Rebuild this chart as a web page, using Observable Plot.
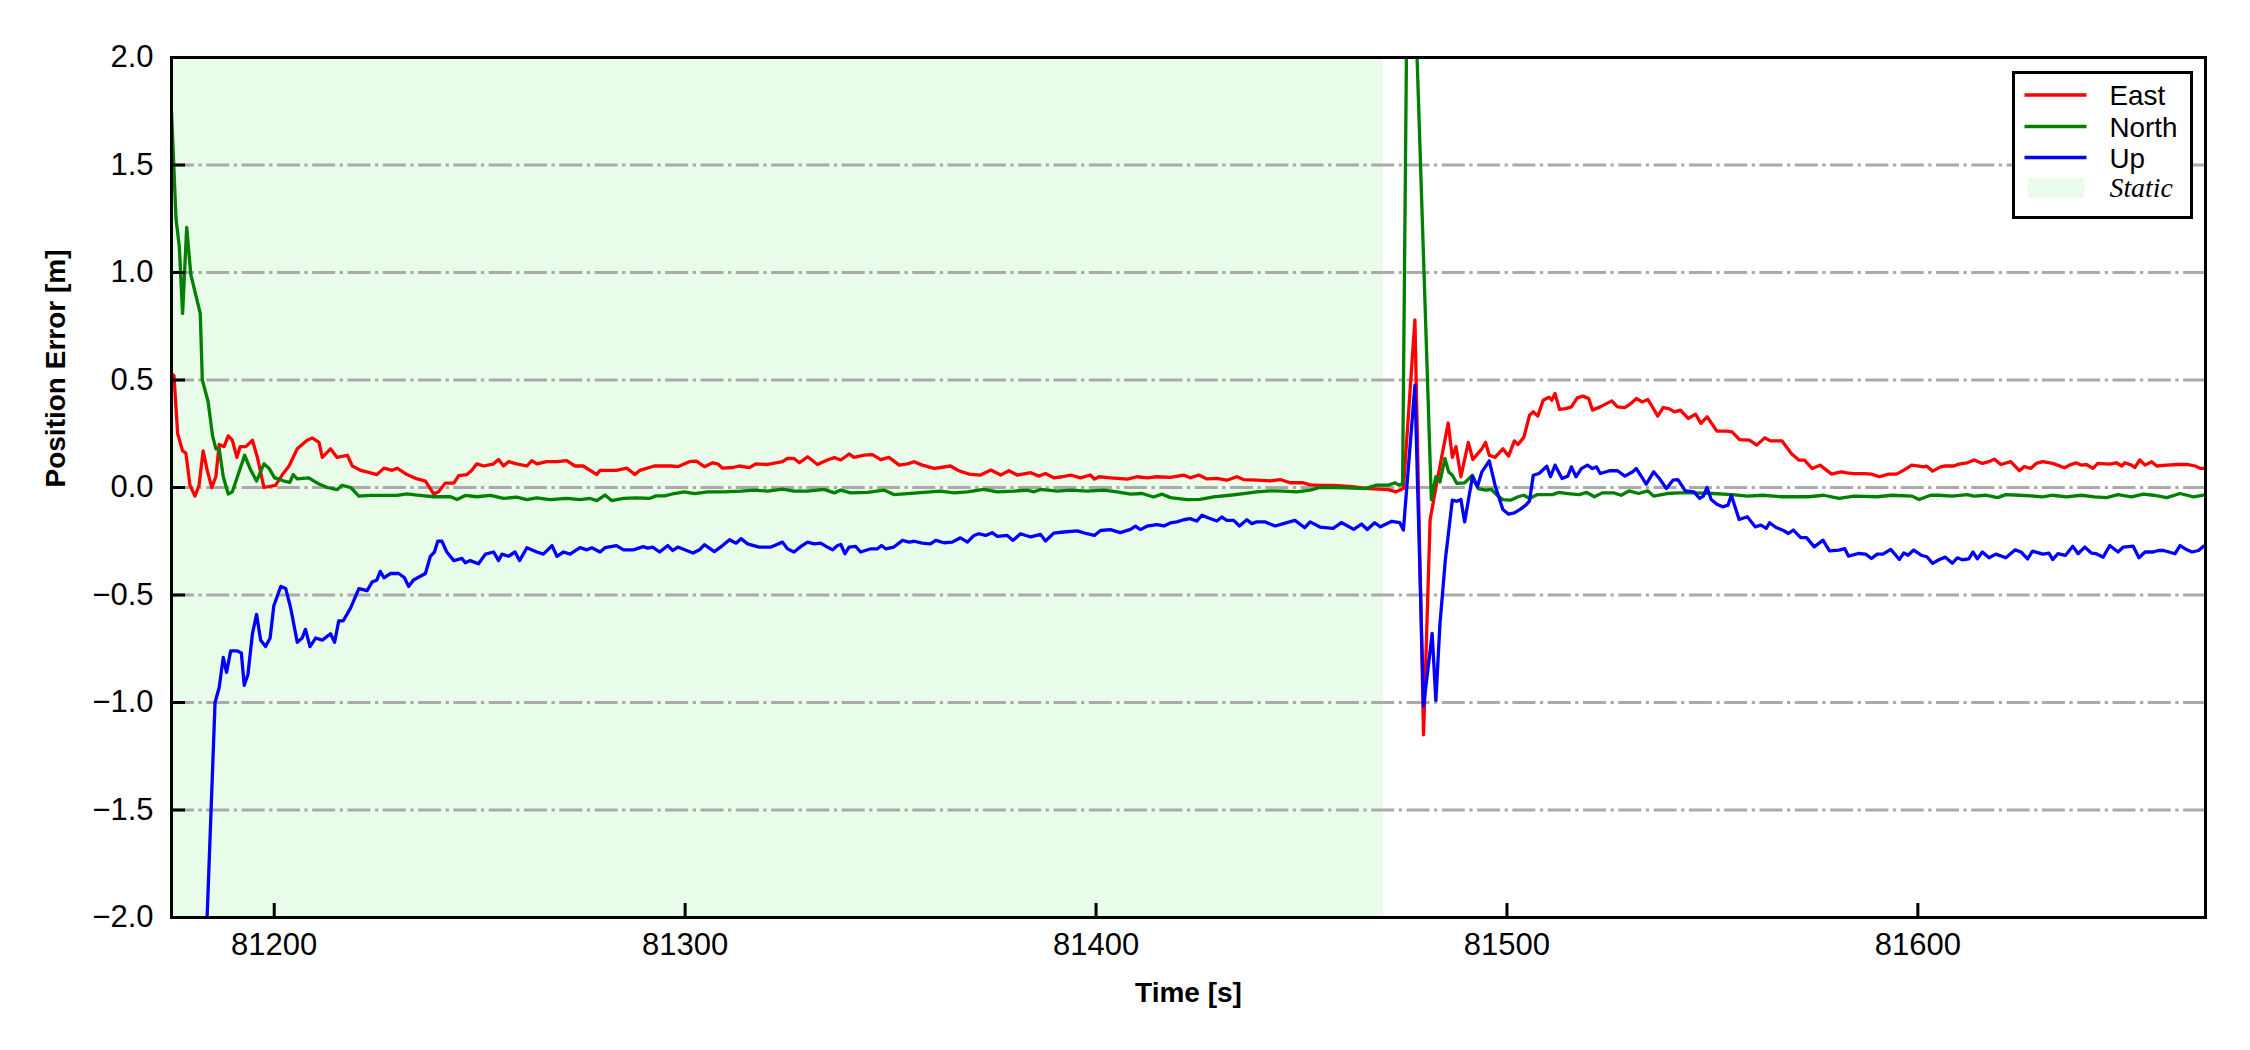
<!DOCTYPE html>
<html>
<head>
<meta charset="utf-8">
<script src="https://cdn.jsdelivr.net/npm/d3@7"></script>
<script src="https://cdn.jsdelivr.net/npm/@observablehq/plot@0.6"></script>
<style>
  html, body { margin: 0; padding: 0; background: white; }
  #wrap { position: relative; width: 2250px; height: 1050px; }
  #legend { position: absolute; left: 2011.5px; top: 70.5px; width: 175px; height: 142px;
            border: 3px solid black; background: white; }
</style>
</head>
<body>
<div id="wrap"></div>
<script>
// ---------------- data (time [s], error [m]) ----------------
const east = [
[81175.0,0.53],[81175.6,0.52],[81176.5,0.25],[81177.7,0.17],[81178.5,0.16],[81179.5,0.01],[81180.7,-0.04],[81181.7,0.01],[81182.7,0.17],[81183.7,0.08],[81184.8,0.0],[81185.8,0.05],[81186.6,0.20],[81187.8,0.19],[81188.8,0.24],[81189.8,0.22],[81190.9,0.14],[81191.7,0.19],[81193.1,0.19],[81194.7,0.22],[81195.9,0.14],[81197.5,0.0],[81200.3,0.01],[81202.0,0.06],[81203.6,0.10],[81205.6,0.18],[81208.0,0.22],[81209.3,0.23],[81210.9,0.21],[81211.7,0.14],[81213.7,0.18],[81215.3,0.14],[81217.8,0.15],[81219.0,0.10],[81221.0,0.08],[81223.0,0.07],[81225.0,0.06],[81226.7,0.09],[81228.7,0.08],[81229.9,0.09],[81232.3,0.06],[81234.8,0.04],[81236.8,0.03],[81238.8,-0.03],[81240.0,-0.02],[81241.6,0.02],[81243.7,0.02],[81244.9,0.055],[81246.9,0.06],[81248.1,0.08],[81249.3,0.11],[81251.0,0.10],[81253.4,0.11],[81254.6,0.13],[81255.8,0.10],[81257.0,0.12],[81259.0,0.11],[81261.5,0.10],[81262.7,0.125],[81263.9,0.11],[81266.3,0.12],[81268.8,0.12],[81271.2,0.125],[81273.2,0.10],[81275.2,0.10],[81278.5,0.06],[81279.3,0.08],[81283.3,0.08],[81285.8,0.09],[81287.8,0.06],[81289.0,0.08],
[81292.5,0.10],[81296.6,0.10],[81298.2,0.097],[81301.0,0.12],[81302.7,0.123],[81304.7,0.097],[81306.7,0.115],[81307.9,0.11],[81309.1,0.09],[81311.6,0.093],[81313.2,0.10],[81315.6,0.092],[81317.2,0.11],[81320.1,0.107],[81323.7,0.12],[81324.9,0.135],[81326.5,0.135],[81327.8,0.115],[81329.8,0.143],[81332.2,0.107],[81334.6,0.128],[81336.3,0.139],[81337.9,0.128],[81339.9,0.156],[81341.1,0.14],[81343.6,0.151],[81345.6,0.153],[81347.6,0.13],[81349.6,0.14],[81352.1,0.104],[81354.1,0.11],[81355.7,0.12],[81357.7,0.104],[81360.6,0.089],[81362.2,0.093],[81364.6,0.10],[81366.6,0.078],[81369.1,0.062],
[81371.9,0.058],[81374.4,0.081],[81376.8,0.058],[81378.8,0.078],[81380.8,0.058],[81384.1,0.069],[81386.1,0.053],[81387.7,0.065],[81389.7,0.045],[81391.8,0.05],[81393.8,0.058],[81396.2,0.045],[81398.6,0.058],[81399.6,0.039],[81400.7,0.05],[81403.5,0.045],[81407.6,0.039],[81410.0,0.05],[81412.4,0.045],[81414.8,0.05],[81418.1,0.047],[81421.3,0.058],[81422.9,0.045],[81425.0,0.058],[81427.0,0.04],[81429.4,0.042],[81431.8,0.034],[81434.3,0.05],[81435.9,0.037],[81439.1,0.034],[81442.4,0.031],[81444.8,0.037],[81447.2,0.022],[81450.4,0.022],[81452.1,0.012],[81454.5,0.01],[81457.7,0.01],[81461.7,0.005],
[81466.4,-0.005],[81471.1,-0.01],[81473.0,-0.02],[81474.8,-0.005],[81477.6,0.78],[81479.7,-1.15],[81481.3,-0.15],[81482.7,0.0],[81484.1,0.14],[81485.7,0.30],[81486.7,0.14],[81487.6,0.19],[81488.8,0.05],[81490.6,0.21],[81491.7,0.13],[81493.0,0.16],[81493.9,0.18],[81494.8,0.21],[81495.7,0.15],[81497.1,0.14],[81499.0,0.18],[81500.4,0.146],[81501.8,0.217],[81502.7,0.2],[81504.1,0.233],[81505.5,0.336],[81506.4,0.352],[81507.5,0.332],[81508.8,0.406],[81510.2,0.42],[81510.9,0.406],[81511.7,0.437],[81512.8,0.363],[81514.3,0.367],[81515.7,0.375],[81517.1,0.417],[81518.5,0.425],[81519.9,0.414],[81520.8,0.36],[81522.7,0.375],[81525.5,0.403],[81526.9,0.375],[81528.7,0.372],[81530.1,0.39],[81531.5,0.414],[81532.9,0.398],[81534.3,0.409],[81535.3,0.378],[81536.7,0.332],[81538.0,0.372],[81539.4,0.367],[81540.8,0.352],[81542.2,0.36],[81544.1,0.321],[81545.9,0.341],[81547.2,0.298],[81548.7,0.329],[81551.1,0.262],[81553.4,0.262],[81554.8,0.259],[81556.6,0.223],[81559.0,0.22],[81560.8,0.197],[81562.7,0.231],[81564.1,0.217],[81566.9,0.217],[81569.2,0.158],[81571.1,0.127],[81572.4,0.127],[81574.3,0.088],[81576.2,0.104],[81579.0,0.062],[81581.3,0.073],[81582.7,0.068],[81584.5,0.065],[81586.9,0.065],[81588.7,0.062],[81590.6,0.05],[81592.9,0.062],[81594.8,0.062],[81596.6,0.081],[81598.5,0.104],[81600.3,0.099],[81601.3,0.096],[81602.2,0.099],[81603.6,0.076],[81605.5,0.096],
[81606.7,0.10],[81608.8,0.10],[81610.0,0.109],[81612.0,0.115],[81613.7,0.128],[81615.7,0.112],[81617.3,0.12],[81618.6,0.132],[81620.2,0.107],[81622.6,0.12],[81624.7,0.078],[81625.9,0.097],[81627.5,0.089],[81628.8,0.112],[81630.4,0.12],[81632.8,0.112],[81635.7,0.092],[81636.9,0.104],[81638.5,0.115],[81639.8,0.104],[81641.0,0.107],[81642.6,0.089],[81643.8,0.112],[81646.7,0.109],[81648.3,0.115],[81649.6,0.10],[81650.4,0.115],[81652.0,0.104],[81652.8,0.093],[81654.0,0.128],[81655.3,0.104],[81656.9,0.12],[81658.1,0.10],[81660.6,0.104],[81663.0,0.107],[81665.5,0.107],[81667.5,0.10],[81668.7,0.089],[81669.5,0.089]
];

const north = [
[81175.0,1.75],[81176.1,1.25],[81176.9,1.12],[81177.7,0.81],[81178.7,1.21],[81179.7,0.99],[81182.0,0.81],[81182.5,0.50],[81183.9,0.40],[81185.0,0.24],[81185.8,0.18],[81186.6,0.18],[81187.6,0.05],[81188.8,-0.03],[81189.8,-0.02],[81192.8,0.15],[81194.3,0.08],[81195.7,0.03],[81197.5,0.11],[81198.7,0.09],[81200.1,0.045],[81202.4,0.03],[81203.8,0.024],[81204.6,0.06],[81205.6,0.04],[81208.4,0.045],[81210.5,0.02],[81212.9,0.0],[81215.3,-0.01],[81216.5,0.01],[81218.6,0.0],[81220.6,-0.04],[81223.4,-0.037],[81226.7,-0.037],[81229.9,-0.037],[81232.3,-0.03],[81234.8,-0.035],[81238.8,-0.043],[81242.9,-0.043],[81244.5,-0.056],[81246.5,-0.037],[81249.3,-0.043],[81252.6,-0.037],[81255.8,-0.051],[81259.0,-0.045],[81261.5,-0.056],[81263.9,-0.048],[81267.1,-0.056],[81271.2,-0.051],[81274.4,-0.056],[81276.9,-0.051],[81278.5,-0.061],[81280.5,-0.035],[81282.1,-0.061],[81285.0,-0.051],[81288.2,-0.048],
[81291.3,-0.051],[81292.9,-0.039],[81295.0,-0.039],[81297.4,-0.028],[81299.8,-0.02],[81302.3,-0.028],[81305.5,-0.02],[81309.5,-0.02],[81313.6,-0.017],[81316.8,-0.012],[81320.1,-0.017],[81323.7,-0.008],[81326.5,-0.017],[81329.8,-0.017],[81333.8,-0.009],[81336.3,-0.025],[81337.9,-0.012],[81340.3,-0.025],[81344.4,-0.023],[81348.4,-0.012],[81350.8,-0.033],[81354.1,-0.028],[81358.1,-0.023],[81362.2,-0.017],[81365.4,-0.025],[81368.7,-0.02],
[81372.7,-0.009],[81376.0,-0.02],[81380.0,-0.017],[81383.2,-0.012],[81384.9,-0.02],[81386.5,-0.009],[81390.6,-0.017],[81393.8,-0.012],[81397.8,-0.017],[81401.9,-0.012],[81405.1,-0.02],[81408.4,-0.031],[81411.2,-0.028],[81414.0,-0.044],[81416.1,-0.031],[81418.1,-0.047],[81422.1,-0.056],[81425.3,-0.055],[81428.6,-0.044],[81432.6,-0.036],[81435.9,-0.028],[81439.1,-0.02],[81442.4,-0.016],[81445.6,-0.017],[81448.8,-0.02],[81452.1,-0.012],[81454.5,0.0],[81459.3,0.0],
[81465.5,-0.005],[81468.3,0.011],[81471.1,0.011],[81472.8,0.022],[81473.7,0.011],[81474.6,0.019],[81476.1,3.2],[81481.6,-0.056],[81482.7,0.05],[81483.7,0.026],[81484.9,0.135],[81485.8,0.073],[81486.7,0.057],[81487.8,0.019],[81489.7,0.022],[81491.6,0.057],[81493.0,-0.005],[81494.8,-0.012],[81496.2,-0.009],[81497.6,-0.036],[81499.0,-0.056],[81500.9,-0.059],[81502.7,-0.043],[81504.1,-0.036],[81505.5,-0.051],[81507.4,-0.033],[81511.1,-0.033],[81512.5,-0.023],[81514.8,-0.028],[81517.6,-0.033],[81519.4,-0.023],[81521.3,-0.043],[81523.2,-0.025],[81526.0,-0.025],[81527.8,-0.036],[81529.7,-0.016],[81532.0,-0.028],[81534.3,-0.016],[81535.7,-0.04],[81539.0,-0.028],[81541.8,-0.025],[81545.5,-0.025],[81550.1,-0.028],[81554.8,-0.033],[81558.5,-0.04],[81562.2,-0.036],[81566.9,-0.043],[81573.4,-0.043],[81577.1,-0.036],[81580.8,-0.051],[81584.5,-0.04],[81590.1,-0.043],[81593.8,-0.036],[81598.5,-0.04],[81600.3,-0.056],[81603.1,-0.036],
[81605.1,-0.036],[81608.4,-0.04],[81612.0,-0.033],[81613.7,-0.04],[81616.5,-0.036],[81619.4,-0.047],[81621.4,-0.033],[81624.7,-0.036],[81627.5,-0.039],[81630.4,-0.044],[81632.8,-0.036],[81636.1,-0.044],[81639.8,-0.036],[81643.0,-0.044],[81645.9,-0.047],[81648.7,-0.033],[81652.0,-0.044],[81654.9,-0.031],[81657.3,-0.036],[81660.6,-0.047],[81663.8,-0.028],[81667.1,-0.044],[81669.5,-0.036]
];

const up = [
[81175.0,-3.0],[81182.7,-2.5],[81185.6,-1.0],[81186.6,-0.93],[81187.6,-0.79],[81188.4,-0.86],[81189.4,-0.76],[81191.0,-0.76],[81192.0,-0.77],[81192.7,-0.92],[81193.6,-0.87],[81194.7,-0.68],[81195.7,-0.59],[81196.7,-0.71],[81197.9,-0.74],[81199.0,-0.70],[81199.9,-0.55],[81201.6,-0.46],[81202.8,-0.47],[81204.0,-0.56],[81205.6,-0.72],[81206.8,-0.70],[81207.6,-0.66],[81208.7,-0.74],[81210.1,-0.70],[81211.7,-0.71],[81213.7,-0.68],[81214.7,-0.72],[81215.7,-0.62],[81216.8,-0.62],[81218.6,-0.56],[81220.6,-0.47],[81222.6,-0.48],[81223.8,-0.44],[81225.0,-0.43],[81225.8,-0.39],[81226.7,-0.42],[81228.3,-0.40],[81230.3,-0.40],[81231.7,-0.42],[81232.7,-0.46],[81233.9,-0.43],[81236.8,-0.40],[81238.0,-0.32],[81239.0,-0.30],[81239.8,-0.25],[81240.8,-0.25],[81242.0,-0.30],[81243.7,-0.34],[81245.7,-0.33],[81246.5,-0.35],[81247.7,-0.34],[81249.7,-0.355],[81251.4,-0.31],[81253.4,-0.30],[81254.6,-0.34],[81255.4,-0.31],[81257.0,-0.32],[81258.6,-0.30],[81259.7,-0.34],[81261.5,-0.28],[81263.9,-0.30],[81265.5,-0.31],[81267.6,-0.27],[81268.8,-0.32],[81270.4,-0.30],[81272.0,-0.31],[81274.4,-0.28],[81276.1,-0.29],[81277.3,-0.28],[81279.3,-0.30],[81280.5,-0.28],[81283.3,-0.27],[81285.0,-0.29],[81287.4,-0.29],[81289.8,-0.275],
[81290.9,-0.282],[81292.1,-0.277],[81293.8,-0.30],[81295.8,-0.27],[81297.0,-0.293],[81298.2,-0.277],[81301.9,-0.305],[81303.5,-0.29],[81304.7,-0.266],[81307.1,-0.298],[81309.1,-0.27],[81310.8,-0.243],[81312.4,-0.259],[81313.6,-0.238],[81315.2,-0.262],[81318.0,-0.277],[81320.9,-0.277],[81323.7,-0.254],[81324.9,-0.285],[81326.5,-0.30],[81328.2,-0.274],[81329.8,-0.254],[81331.4,-0.262],[81333.0,-0.259],[81334.6,-0.277],[81335.9,-0.29],[81337.1,-0.27],[81337.9,-0.265],[81338.9,-0.308],[81339.9,-0.277],[81341.5,-0.274],[81342.7,-0.30],[81345.2,-0.285],[81346.8,-0.285],[81347.8,-0.27],[81348.8,-0.285],[81350.8,-0.277],[81352.9,-0.246],[81354.5,-0.254],[81355.7,-0.25],[81357.7,-0.259],[81359.7,-0.262],[81361.0,-0.246],[81363.0,-0.257],[81365.0,-0.254],[81367.0,-0.234],[81368.7,-0.254],[81370.3,-0.223],
[81371.5,-0.215],[81373.1,-0.223],[81374.7,-0.21],[81376.0,-0.227],[81378.4,-0.223],[81379.8,-0.246],[81381.6,-0.215],[81384.1,-0.23],[81386.5,-0.218],[81387.7,-0.249],[81389.7,-0.212],[81392.1,-0.207],[81395.4,-0.202],[81397.8,-0.215],[81399.6,-0.223],[81401.1,-0.2],[81403.5,-0.196],[81405.9,-0.21],[81408.4,-0.195],[81409.6,-0.18],[81410.8,-0.196],[81412.4,-0.18],[81414.8,-0.173],[81416.5,-0.179],[81418.1,-0.165],[81419.7,-0.16],[81421.3,-0.15],[81422.9,-0.145],[81424.5,-0.156],[81425.8,-0.129],[81427.4,-0.142],[81429.4,-0.156],[81430.6,-0.137],[81431.8,-0.153],[81433.5,-0.153],[81434.9,-0.179],[81436.7,-0.15],[81437.9,-0.168],[81439.1,-0.16],[81441.1,-0.16],[81443.6,-0.179],[81445.6,-0.168],[81448.4,-0.153],[81450.8,-0.187],[81452.1,-0.16],[81454.5,-0.184],[81457.7,-0.19],[81459.7,-0.163],
[81462.7,-0.195],[81464.6,-0.17],[81466.0,-0.195],[81467.8,-0.164],[81469.2,-0.183],[81472.0,-0.157],[81473.9,-0.163],[81474.8,-0.198],[81477.6,0.476],[81479.7,-1.017],[81481.8,-0.679],[81482.7,-0.99],[81483.7,-0.633],[81485.0,-0.338],[81486.7,-0.059],[81487.8,-0.064],[81488.8,-0.056],[81489.7,-0.16],[81491.6,0.05],[81492.8,0.003],[81493.9,0.073],[81495.7,0.124],[81497.1,0.011],[81499.0,-0.102],[81500.4,-0.124],[81501.8,-0.118],[81503.2,-0.102],[81504.6,-0.082],[81505.5,-0.062],[81506.4,0.057],[81507.8,0.065],[81509.7,0.099],[81510.6,0.05],[81511.7,0.104],[81513.4,0.042],[81514.8,0.053],[81515.7,0.096],[81516.8,0.05],[81518.1,0.088],[81519.6,0.104],[81520.8,0.088],[81521.8,0.096],[81522.7,0.065],[81525.0,0.078],[81526.9,0.078],[81528.7,0.053],[81530.6,0.073],[81531.5,0.088],[81533.9,0.016],[81535.7,0.073],[81537.1,0.042],[81538.8,-0.005],[81540.4,0.034],[81541.6,0.037],[81543.4,-0.016],[81545.5,-0.02],[81546.9,-0.051],[81547.8,-0.04],[81548.7,0.0],[81549.7,-0.056],[81551.1,-0.078],[81552.5,-0.09],[81553.8,-0.082],[81554.6,-0.036],[81556.5,-0.149],[81558.5,-0.136],[81560.4,-0.183],[81561.8,-0.175],[81563.1,-0.19],[81563.9,-0.164],[81565.5,-0.186],[81567.3,-0.2],[81568.5,-0.214],[81569.7,-0.198],[81571.5,-0.233],[81572.9,-0.233],[81574.8,-0.276],[81576.9,-0.245],[81578.5,-0.295],[81580.8,-0.291],[81582.2,-0.284],[81583.1,-0.319],[81585.5,-0.307],[81587.3,-0.31],[81588.7,-0.33],[81590.1,-0.31],[81591.5,-0.31],[81593.4,-0.288],[81595.5,-0.335],[81596.6,-0.304],[81597.6,-0.315],[81599.0,-0.291],[81600.8,-0.315],[81602.2,-0.322],[81603.6,-0.353],
[81605.1,-0.336],[81606.7,-0.324],[81608.4,-0.352],[81609.6,-0.327],[81610.8,-0.336],[81612.4,-0.332],[81613.4,-0.30],[81614.5,-0.332],[81615.7,-0.30],[81617.3,-0.327],[81619.0,-0.31],[81621.4,-0.327],[81623.7,-0.29],[81625.1,-0.30],[81626.7,-0.332],[81627.9,-0.296],[81630.4,-0.31],[81631.9,-0.305],[81632.8,-0.335],[81634.1,-0.308],[81635.9,-0.316],[81637.7,-0.273],[81639.0,-0.308],[81640.6,-0.277],[81642.2,-0.305],[81643.4,-0.308],[81645.1,-0.324],[81646.7,-0.27],[81648.7,-0.30],[81650.0,-0.277],[81652.4,-0.273],[81653.8,-0.327],[81655.3,-0.30],[81657.3,-0.30],[81658.5,-0.293],[81659.8,-0.293],[81662.6,-0.308],[81663.8,-0.27],[81665.5,-0.29],[81666.7,-0.30],[81668.3,-0.293],[81669.5,-0.273]
];

const staticPeriod = [{start: 81175, end: 81470}];
const xDomain = [81175, 81670];
const yDomain = [-2, 2];
const xTicks = [81200, 81300, 81400, 81500, 81600];
const yTicks = [-2.0, -1.5, -1.0, -0.5, 0.0, 0.5, 1.0, 1.5, 2.0];
const gridValues = [-1.5, -1.0, -0.5, 0.0, 0.5, 1.0, 1.5];
const seriesNames = ["East", "North", "Up"];
const seriesColors = ["#ff0000", "#008000", "#0000ff"];
const staticLabel = "Static";
const staticColor = "#e9fce9";

// ---------------- layout ----------------
const W = 2250, H = 1050;
const mL = 171, mR = 45, mT = 57, mB = 133;
const innerW = W - mL - mR, innerH = H - mT - mB;
const tickLen = 14;
const fmt = d => d.toFixed(1).replace("-", "\u2212");

const chart = Plot.plot({
  width: W, height: H,
  marginLeft: mL, marginRight: mR, marginTop: mT, marginBottom: mB,
  style: {fontFamily: "'Liberation Sans', Arial, sans-serif", fontSize: "31px", color: "black", background: "white", overflow: "visible"},
  x: {domain: xDomain},
  y: {domain: yDomain},
  marks: [
    Plot.rect(staticPeriod, {x1: "start", x2: "end", fill: staticColor}),
    Plot.gridY(gridValues, {stroke: "#aaaaaa", strokeOpacity: 1, strokeWidth: 3, strokeDasharray: "23,4.5,3.3,4.5"}),
    Plot.line(east, {x: d => d[0], y: d => d[1], stroke: seriesColors[0], strokeWidth: 3.3, clip: true}),
    Plot.line(north, {x: d => d[0], y: d => d[1], stroke: seriesColors[1], strokeWidth: 3.3, clip: true}),
    Plot.line(up, {x: d => d[0], y: d => d[1], stroke: seriesColors[2], strokeWidth: 3.3, clip: true}),
    Plot.tickX(xTicks, {x: d => d, insetTop: innerH - tickLen, stroke: "black", strokeWidth: 3}),
    Plot.tickY(yTicks, {y: d => d, insetRight: innerW - tickLen, stroke: "black", strokeWidth: 3}),
    Plot.frame({stroke: "black", strokeWidth: 3}),
    Plot.axisX(xTicks, {tickSize: 0, tickPadding: 15, label: null, fontSize: 31, tickFormat: d => String(d)}),
    Plot.axisY(yTicks, {tickSize: 0, tickPadding: 18, label: null, fontSize: 31, tickFormat: fmt}),
    Plot.text(["Time [s]"], {text: d => d, frameAnchor: "bottom", dy: 76, lineAnchor: "middle", fontSize: 28, fontWeight: "bold"}),
    Plot.text(["Position Error [m]"], {text: d => d, frameAnchor: "left", dx: -115, rotate: -90, lineAnchor: "middle", fontSize: 28, fontWeight: "bold"})
  ]
});

const wrap = document.getElementById("wrap");
wrap.appendChild(chart);

// ---------------- legend ----------------
const legend = document.createElement("div");
legend.id = "legend";
const ns = "http://www.w3.org/2000/svg";
const lsvg = document.createElementNS(ns, "svg");
lsvg.setAttribute("width", 175);
lsvg.setAttribute("height", 142);
lsvg.style.display = "block";
const rowY = [21, 52.5, 83.5];
seriesNames.forEach((name, i) => {
  const ln = document.createElementNS(ns, "line");
  ln.setAttribute("x1", 9.5); ln.setAttribute("x2", 71.5);
  ln.setAttribute("y1", rowY[i]); ln.setAttribute("y2", rowY[i]);
  ln.setAttribute("stroke", seriesColors[i]); ln.setAttribute("stroke-width", 3.3);
  lsvg.appendChild(ln);
  const tx = document.createElementNS(ns, "text");
  tx.setAttribute("x", 94.5); tx.setAttribute("y", rowY[i] + 10);
  tx.setAttribute("font-family", "'Liberation Sans', Arial, sans-serif");
  tx.setAttribute("font-size", 27.8);
  tx.textContent = name;
  lsvg.appendChild(tx);
});
const rc = document.createElementNS(ns, "rect");
rc.setAttribute("x", 12.5); rc.setAttribute("y", 104.5);
rc.setAttribute("width", 57); rc.setAttribute("height", 19);
rc.setAttribute("fill", staticColor);
lsvg.appendChild(rc);
const st = document.createElementNS(ns, "text");
st.setAttribute("x", 94.5); st.setAttribute("y", 123);
st.setAttribute("font-family", "'Liberation Serif', 'Times New Roman', serif");
st.setAttribute("font-style", "italic");
st.setAttribute("font-size", 27.8);
st.textContent = staticLabel;
lsvg.appendChild(st);
legend.appendChild(lsvg);
wrap.appendChild(legend);
</script>
</body>
</html>
